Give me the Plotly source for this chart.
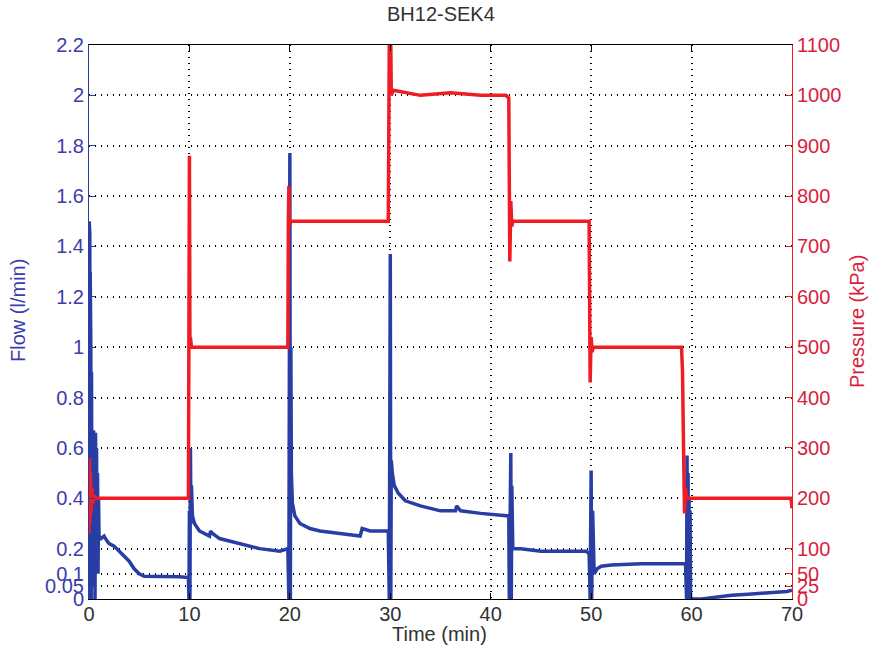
import plotly.graph_objects as go

# ---- data ----
flow_time = [0.0, 0.02, 0.05, 0.08, 0.1, 0.12, 0.15, 0.18, 0.22, 0.25, 0.3, 0.35, 0.4, 0.45,
             0.5, 0.55, 0.6, 0.65, 0.7, 0.75, 0.8, 0.85, 0.9, 0.95,
             1.0, 1.2, 1.5, 1.8, 2.0, 2.5, 3.0, 3.5, 4.0, 4.5, 5.0, 5.5, 7.0, 9.0, 9.9,
             9.95, 10.0, 10.05, 10.1, 10.15, 10.2, 10.3, 10.5, 11.0, 11.5, 12.0, 12.1, 12.3, 13.0,
             15.0, 17.0, 19.0, 19.8, 19.9, 20.0, 20.05, 20.1, 20.15, 20.25, 20.5, 21.0, 22.0, 23.0,
             25.0, 27.0, 27.2, 28.0, 29.8, 29.9, 30.0, 30.05, 30.1, 30.2, 30.4, 30.8, 31.5, 33.0,
             35.0, 36.5, 36.6, 37.0, 39.0, 41.8, 41.85, 42.0, 42.05, 42.1, 42.2, 43.0, 45.0, 47.0,
             49.5, 49.8, 49.9, 50.0, 50.05, 50.15, 50.3, 50.6, 51.0, 52.0, 55.0, 59.4, 59.5, 59.55,
             59.6, 59.65, 59.7, 59.75, 59.8, 59.85, 59.9, 60.5, 61.0, 62.0, 64.0, 66.0, 68.0, 69.5, 70.0]
flow_value = [0.0, 1.5, 0.2, 1.45, 0.0, 1.3, 0.1, 1.0, 0.0, 0.9, 0.1, 0.6, 0.05, 0.67,
              0.2, 0.66, 0.0, 0.66, 0.15, 0.6, 0.2, 0.5, 0.1, 0.4,
              0.25, 0.24, 0.25, 0.23, 0.22, 0.21, 0.19, 0.17, 0.15, 0.12, 0.10, 0.09, 0.09, 0.088, 0.085,
              0.0, 0.35, 0.0, 0.6, 0.3, 0.45, 0.33, 0.3, 0.27, 0.26, 0.25, 0.27, 0.26, 0.24,
              0.22, 0.2, 0.19, 0.2, 0.0, 1.77, 0.0, 1.0, 0.5, 0.38, 0.33, 0.3, 0.28, 0.27,
              0.26, 0.25, 0.28, 0.27, 0.27, 0.0, 1.37, 0.0, 0.55, 0.5, 0.45, 0.42, 0.39, 0.37,
              0.35, 0.35, 0.37, 0.35, 0.34, 0.33, 0.0, 0.58, 0.0, 0.45, 0.2, 0.2, 0.19, 0.19,
              0.19, 0.18, 0.0, 0.51, 0.0, 0.35, 0.1, 0.12, 0.13, 0.135, 0.14, 0.14, 0.0, 0.57,
              0.0, 0.5, 0.0, 0.4, 0.0, 0.35, 0.0, 0.0, 0.0, 0.005, 0.015, 0.02, 0.025, 0.03, 0.035, 0.03]

pres_time = [0.0, 0.05, 0.1, 0.15, 0.2, 0.3, 0.4, 0.5, 0.7, 9.9, 10.0, 10.05, 10.1, 10.2,
             19.8, 19.85, 19.9, 19.95, 20.1, 29.8, 29.9, 30.0, 30.05, 30.1, 30.3, 33.0, 36.0,
             39.0, 41.5, 41.8, 41.9, 42.0, 42.1, 42.2, 49.8, 49.9, 50.0, 50.1, 50.2, 59.0,
             59.1, 59.2, 59.3, 59.4, 59.5, 69.9, 70.0]
pres_value = [130, 280, 150, 250, 170, 220, 190, 205, 200, 200, 880, 500, 520, 500,
              500, 750, 820, 740, 750, 750, 1100, 1000, 1100, 1000, 1010, 1000, 1005,
              1000, 1000, 995, 670, 790, 740, 750, 750, 430, 520, 490, 500, 500,
              450, 300, 170, 220, 200, 200, 180]

x_ticks = [0, 10, 20, 30, 40, 50, 60, 70]
flow_ticks = [0, 0.05, 0.1, 0.2, 0.4, 0.6, 0.8, 1.0, 1.2, 1.4, 1.6, 1.8, 2.0, 2.2]
flow_tick_text = ["0", "0.05", "0.1", "0.2", "0.4", "0.6", "0.8", "1", "1.2", "1.4", "1.6",
                  "1.8", "2", "2.2"]
pres_ticks = [0, 25, 50, 100, 200, 300, 400, 500, 600, 700, 800, 900, 1000, 1100]

BLUE = "rgb(40,62,165)"
RED = "rgb(240,28,36)"
BLUE_TXT = "rgb(60,60,170)"
RED_TXT = "rgb(215,30,60)"
TXT = "rgb(50,50,50)"
FONT = "Liberation Sans, Arial, sans-serif"
GRID_DASH = "1px,5px"

fig = go.Figure()
fig.add_trace(go.Scatter(x=flow_time, y=flow_value, mode="lines",
                         line=dict(color=BLUE, width=3.5), yaxis="y", showlegend=False))
fig.add_trace(go.Scatter(x=pres_time, y=pres_value, mode="lines",
                         line=dict(color=RED, width=3.5), yaxis="y2", showlegend=False))

fig.update_layout(
    width=872, height=655,
    margin=dict(l=89, r=80, t=45, b=56, autoexpand=False),
    paper_bgcolor="white", plot_bgcolor="white",
    font=dict(family=FONT, size=20, color=TXT),
    xaxis=dict(range=[0, 70], tickvals=x_ticks, showgrid=True, gridcolor="black",
               griddash=GRID_DASH, gridwidth=1.5, showline=True, linecolor="black", linewidth=1,
               mirror="ticks", ticks="inside", ticklen=6, tickcolor="black", automargin=False,
               ticklabelstandoff=-3,
               zeroline=False, tickfont=dict(size=20, color=TXT)),
    yaxis=dict(range=[0, 2.2], tickvals=flow_ticks, ticktext=flow_tick_text,
               showgrid=True, gridcolor="black", griddash=GRID_DASH, gridwidth=1.5,
               showline=True, linecolor=BLUE, linewidth=1, ticks="inside", ticklen=6,
               tickcolor=BLUE, zeroline=False, automargin=False,
               tickfont=dict(size=20, color=BLUE_TXT)),
    yaxis2=dict(range=[0, 1100], tickvals=pres_ticks, overlaying="y", side="right",
                showgrid=False, showline=True, linecolor=RED, linewidth=1, ticks="inside",
                ticklen=6, tickcolor=RED, zeroline=False, automargin=False,
                tickfont=dict(size=20, color=RED_TXT)),
    annotations=[
        dict(text="BH12-SEK4", xref="paper", yref="paper", x=0.5, y=1.056, showarrow=False,
             xanchor="center", yanchor="middle", font=dict(size=20, color=TXT)),
        dict(text="Time (min)", xref="paper", yref="paper", x=0.499, y=-0.063, showarrow=False,
             xanchor="center", yanchor="middle", font=dict(size=20, color=TXT)),
        dict(text="Flow (l/min)", xref="paper", yref="paper", x=-0.101, y=0.5217, showarrow=False,
             textangle=-90, xanchor="center", yanchor="middle", font=dict(size=20, color=BLUE_TXT)),
        dict(text="Pressure (kPa)", xref="paper", yref="paper", x=1.0925, y=0.5, showarrow=False,
             textangle=-90, xanchor="center", yanchor="middle", font=dict(size=20, color=RED_TXT)),
    ],
)

fig.write_html("out.html", config={"displayModeBar": False},
               post_script="document.body.style.margin='0px';")
